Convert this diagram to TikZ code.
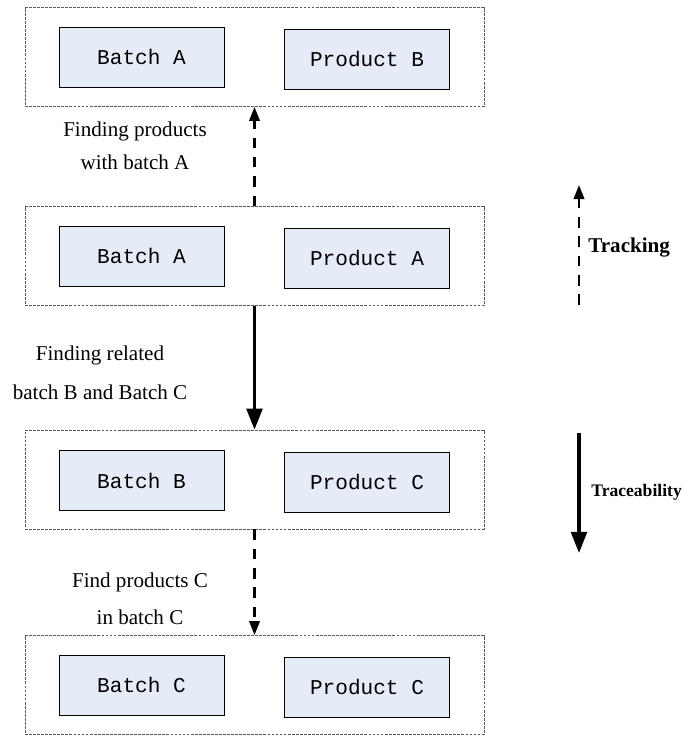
\documentclass[tikz,border=0pt]{standalone}
\usepackage{fontspec}
\setmainfont{Liberation Serif}
\setmonofont{Liberation Mono}
\usetikzlibrary{arrows.meta}
\definecolor{boxfill}{RGB}{230,236,247}
\definecolor{groupline}{RGB}{90,90,90}
\tikzset{
    group/.style={draw=groupline,line width=0.45pt,dash pattern=on 1.6pt off 0.7pt,
        minimum width=9.18cm,minimum height=1.98cm,inner sep=0pt},
    item/.style={draw,fill=boxfill,line width=0.5pt,minimum width=3.3cm,minimum height=1.2cm,
        font=\ttfamily\fontsize{12}{14}\selectfont},
    dasharrow/.style={line width=1.2pt,dash pattern=on 6pt off 5pt,-{Triangle[length=8pt,width=6pt]}},
    thickarrow/.style={line width=1.8pt,-{Triangle[length=12pt,width=9pt]}},
    label/.style={align=center,font=\fontsize{12}{19}\selectfont},
}
\begin{document}
\begin{tikzpicture}[x=0.02cm,y=-0.02cm]
    \useasboundingbox (0,0) rectangle (684,737);
    % four levels
    \node[group] (g1) at (254.5,57) {};
    \node[group] (g2) at (254.5,256) {};
    \node[group] (g3) at (254.5,479.5) {};
    \node[group] (g4) at (254.5,685) {};
    \node[item] (b1) at (141.5,57) {Batch A};
    \node[item] (p1) at (367,59) {Product B};
    \node[item] (b2) at (141.5,256) {Batch A};
    \node[item] (p2) at (367,258) {Product A};
    \node[item] (b3) at (141.5,480.5) {Batch B};
    \node[item] (p3) at (367,482) {Product C};
    \node[item] (b4) at (141.5,685) {Batch C};
    \node[item] (p4) at (367,687) {Product C};
    % links between levels
    \draw[dasharrow] (g2.north) -- (g1.south);
    \draw[thickarrow] (g2.south) -- (g3.north);
    \draw[dasharrow] (g3.south) -- (g4.north);
    \node[label] (l1) at (135,146) {Finding products\\with batch A};
    \node[label] (l2) at (100,373) {Finding related\\[3.5pt]batch B and Batch C};
    \node[label] (l3) at (140,599) {Find products C\\[2pt]in batch C};
    % direction legend
    \coordinate (t0) at (579,305);
    \coordinate (t1) at (579,185);
    \coordinate (r0) at (579,433);
    \coordinate (r1) at (579,553);
    \draw[dasharrow] (t0) -- (t1);
    \draw[thickarrow] (r0) -- (r1);
    \node[anchor=west,font=\bfseries\fontsize{12}{14}\selectfont,inner sep=0pt] (tr) at (588,248) {Tracking};
    \node[anchor=west,font=\bfseries\fontsize{10}{12}\selectfont,inner sep=0pt] (tc) at (591,492) {Traceability};
\end{tikzpicture}
\end{document}
